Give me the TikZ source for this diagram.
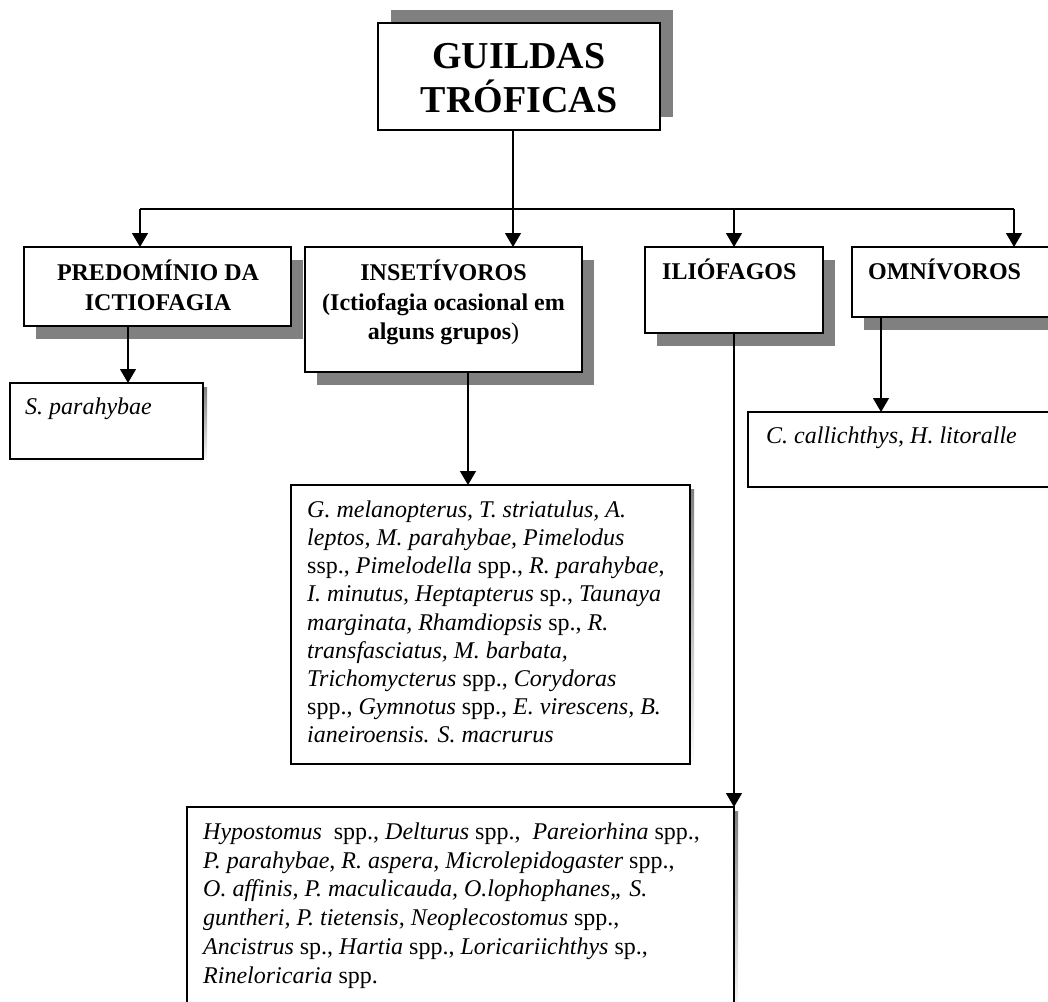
\documentclass[tikz,border=0pt]{standalone}
\usepackage{fontspec}
\setmainfont{Liberation Serif}
\usetikzlibrary{arrows.meta}
\definecolor{shade}{HTML}{808080}
% zero-width strut that fixes the top of a text block above its first baseline
\newcommand\firststrut[1]{\rule{0pt}{#1}}

\begin{document}
\begin{tikzpicture}[x=1pt,y=-1pt,
  box/.style={draw=black, line width=1.3pt, fill=white, inner sep=0pt, outer sep=0pt, rectangle},
  link/.style={line width=1.3pt},
  arr/.style={line width=1.3pt, -{Triangle[length=14pt,width=16pt]}},
  ttl/.style={font=\fontsize{38}{44}\selectfont\bfseries, inner sep=0pt, align=center, anchor=north},
  hdr/.style={font=\fontsize{24}{29.3}\selectfont\bfseries, inner sep=0pt, align=center, anchor=north},
  hdrl/.style={font=\fontsize{24}{29.3}\selectfont\bfseries, inner sep=0pt, align=left, anchor=north west},
  spp/.style={font=\fontsize{24}{28.2}\selectfont, inner sep=0pt, align=left, anchor=north west},
  bigshadow/.style={fill=shade},
]
\useasboundingbox (0,0) rectangle (1048,1001);

% boxes
\path
  node[box, minimum width=282, minimum height=107] (title) at (519,76.5) {}
  node[box, minimum width=267, minimum height=79]  (pred)  at (157.5,286.5) {}
  node[box, minimum width=277, minimum height=125] (inse)  at (443.5,309.5) {}
  node[box, minimum width=178, minimum height=86]  (ilio)  at (734,290) {}
  node[box, minimum width=210, minimum height=70]  (omni)  at (957,282) {}
  node[box, minimum width=193, minimum height=76]  (spar)  at (106.5,421) {}
  node[box, minimum width=399, minimum height=279] (inss)  at (490.5,624.5) {}
  node[box, minimum width=314, minimum height=75]  (omns)  at (905,449.5) {}
  node[box, minimum width=547, minimum height=208] (ilis)  at (460.5,911) {};

% shadows behind the boxes
\fill[bigshadow] ([shift={(13,-13)}]title.south west) rectangle ([shift={(13,-13)}]title.north east);
\foreach \n in {pred,inse,ilio,omni}
  \fill[bigshadow] ([shift={(12,13)}]\n.south west) rectangle ([shift={(12,13)}]\n.north east);
\foreach \n in {spar,inss,omns,ilis}
  \fill[shade] ([shift={(4,4)}]\n.south west) rectangle ([shift={(4,4)}]\n.north east);

% boxes redrawn over their shadows
\foreach \n in {title,pred,inse,ilio,omni,spar,inss,omns,ilis}
  \draw[line width=1.3pt, fill=white] (\n.south west) rectangle (\n.north east);

% connectors
\coordinate (hub)  at (513,209);
\coordinate (busL) at (140,209);
\coordinate (busI) at (734,209);
\coordinate (busR) at (1014,209);
\draw[link] (hub |- title.south) -- (hub);
\draw[link] (busL) -- (busR);
\draw[arr] (busL) -- (busL |- pred.north);
\draw[arr] (hub)  -- (hub |- inse.north);
\draw[arr] (busI) -- (busI |- ilio.north);
\draw[arr] (busR) -- (busR |- omni.north);
\draw[arr] ([xshift=-29.5pt]pred.south) -- ([xshift=-29.5pt]pred.south |- spar.north);
\draw[arr] ([xshift=24.5pt]inse.south) -- ([xshift=24.5pt]inse.south |- inss.north);
\draw[arr] (ilio.south) -- (ilis.north east);
\draw[arr] ([xshift=-76pt]omni.south) -- ([xshift=-76pt]omni.south |- omns.north);

% texts
\node[ttl] (title-t) at (519,30) {\firststrut{38pt}GUILDAS\\TRÓFICAS};
\node[hdr] (pred-t) at (158,256.5) {\firststrut{24pt}PREDOMÍNIO DA\\ICTIOFAGIA};
\node[hdr] (inse-t) at (443.5,256.5) {\firststrut{24pt}INSETÍVOROS\\(Ictiofagia ocasional em\\alguns grupos{\mdseries)}};
\node[hdrl] (ilio-t) at (662,255) {\firststrut{24pt}ILIÓFAGOS};
\node[hdrl] (omni-t) at (868,255) {\firststrut{24pt}OMNÍVOROS};

\node[spp] (spar-t) at (25,390.6) {\firststrut{24pt}\textit{S. parahybae}};
\node[spp] (omns-t) at (766,419) {\firststrut{24pt}\textit{C. callichthys, H. litoralle}};
\node[spp] (inss-t) at (307,493) {\firststrut{24pt}\textit{G. melanopterus, T. striatulus, A.}\\
  \textit{leptos, M. parahybae, Pimelodus}\\
  ssp., \textit{Pimelodella} spp., \textit{R. parahybae},\\
  \textit{I. minutus, Heptapterus} sp., \textit{Taunaya}\\
  \textit{marginata, Rhamdiopsis} sp., \textit{R.}\\
  \textit{transfasciatus, M. barbata,}\\
  \textit{Trichomycterus} spp., \textit{Corydoras}\\
  spp., \textit{Gymnotus} spp., \textit{E. virescens, B.}\\
  \textit{ianeiroensis. S. macrurus}};
\node[spp, font=\fontsize{24}{28.8}\selectfont] (ilis-t) at (203,815) {\firststrut{24pt}\textit{Hypostomus}\ \ spp., \textit{Delturus} spp.,\ \ \textit{Pareiorhina} spp.,\\
  \textit{P. parahybae, R. aspera, Microlepidogaster} spp.,\\
  \textit{O. affinis, P. maculicauda, O.lophophanes,, S.}\\
  \textit{guntheri, P. tietensis, Neoplecostomus} spp.,\\
  \textit{Ancistrus} sp., \textit{Hartia} spp., \textit{Loricariichthys} sp.,\\
  \textit{Rineloricaria} spp.};
\end{tikzpicture}
\end{document}
